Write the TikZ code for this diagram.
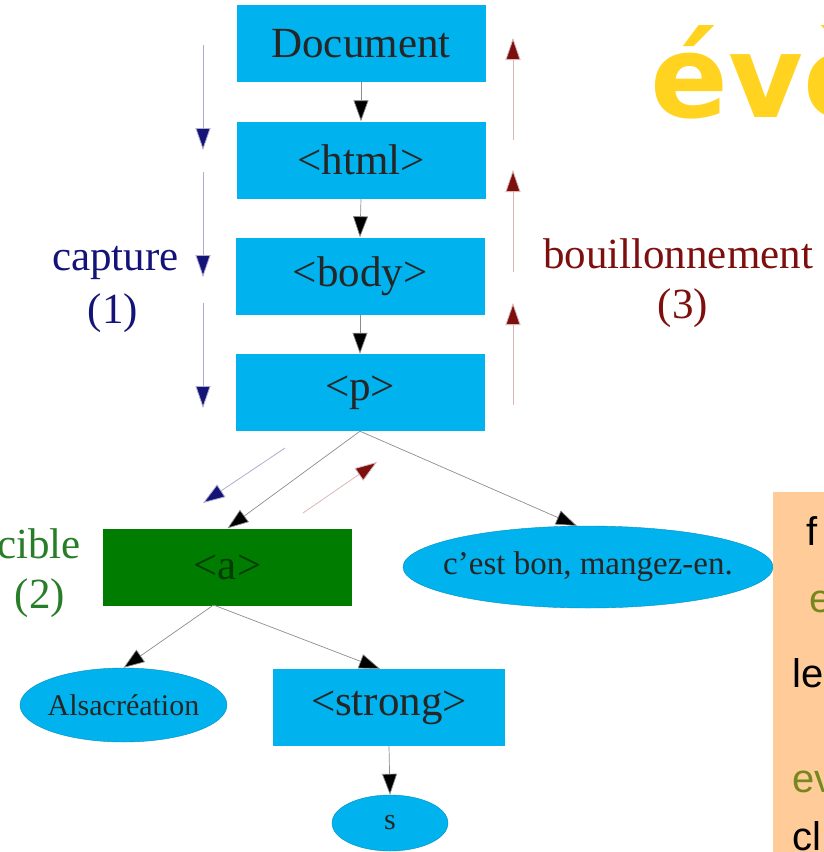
\documentclass[tikz,border=0pt]{standalone}
\usepackage{fontspec}
\setmainfont{Liberation Serif}
\newfontfamily\boxsans{Liberation Sans}
\newfontfamily\titlefont{DejaVu Sans}
\usetikzlibrary{arrows.meta,shapes.geometric}
\definecolor{skyb}{RGB}{0,178,238}
\definecolor{darkgr}{RGB}{0,125,0}
\definecolor{agreen}{RGB}{0,60,0}
\definecolor{labgreen}{RGB}{40,125,40}
\definecolor{capnavy}{RGB}{20,20,120}
\definecolor{bubred}{RGB}{125,15,15}
\definecolor{titley}{RGB}{255,211,32}
\definecolor{peach}{RGB}{255,204,153}
\definecolor{olivet}{RGB}{119,135,30}
\begin{document}
\begin{tikzpicture}[x=1pt,y=-1pt,
  bigfont/.style={font=\fontsize{43}{48}\selectfont},
  box/.style={rectangle, fill=skyb, inner sep=0pt, minimum width=249pt, minimum height=77pt, bigfont, text=black!85},
  oval/.style={ellipse, fill=skyb, draw=skyb!80!black, line width=0.4pt, inner sep=0pt},
  ovaltxt/.style={inner sep=0pt, text=black!85, font=\fontsize{#1}{36}\selectfont},
  edge/.style={draw=black!45, line width=0.7pt, -{Triangle[length=21pt,width=15pt,fill=black]}},
  capline/.style={draw=capnavy!35, line width=0.8pt, -{Triangle[length=22pt,width=15pt,fill=capnavy]}},
  bubline/.style={draw=bubred!30, line width=0.8pt, -{Triangle[length=22pt,width=15pt,fill=bubred]}},
  boxtxt/.style={anchor=base west, inner sep=0pt, font=\boxsans\fontsize{40}{46}\selectfont}
]
\useasboundingbox (0,0) rectangle (824,852);

% title
\node[anchor=base west, inner sep=0pt, text=titley, font=\titlefont\bfseries\fontsize{115}{120}\selectfont] (title) at (650,117) {évè};

% main chain
\node[box] (doc)  at (361,43.5)  {Document};
\node[box] (html) at (361,160)   {<html>};
\node[box] (body) at (360,276)   {<body>};
\node[box] (p)    at (360,392.5) {<p>};

\node[box, fill=darkgr, text=agreen] (a) at (227.5,567) {<a>};
\node[oval, minimum width=370pt, minimum height=82pt] (txt) at (588,567) {};
\node[ovaltxt=33] (txtl) at (txt.center) {c’est bon, mangez-en.};
\node[oval, minimum width=207pt, minimum height=74pt] (alsa) at (123.5,705) {};
\node[ovaltxt=30] (alsal) at (alsa.center) {Alsacréation};
\node[box, minimum width=232pt] (strong) at (389,707.5) {<strong>};
\node[oval, minimum width=116pt, minimum height=56pt] (s) at (390,823) {};
\node[ovaltxt=30] (sl) at (s.center) {s};

% edges
\draw[edge] (doc.south) -- (html.north);
\draw[edge] (html.south) -- (body.north);
\draw[edge] (body.south) -- (p.north);
\draw[edge] (p.south) -- (a.north);
\draw[edge] (p.south) -- (txt.105);
\coordinate (aout) at (213.5,605);
\draw[edge] (aout) -- (alsa.north);
\draw[edge] (aout) -- ([xshift=-9pt]strong.north);
\draw[edge] (strong.south) -- (s.north);

% capture arrows
\coordinate (c1a) at (203,45);  \coordinate (c1b) at (203,150);
\coordinate (c2a) at (203,172); \coordinate (c2b) at (203,277);
\coordinate (c3a) at (203,303); \coordinate (c3b) at (203,408);
\draw[capline] (c1a) -- (c1b);
\draw[capline] (c2a) -- (c2b);
\draw[capline] (c3a) -- (c3b);
\coordinate (c4a) at (285,448); \coordinate (c4b) at (203,503);
\draw[capline] (c4a) -- (c4b);

% bubbling arrows
\coordinate (b1a) at (513,140); \coordinate (b1b) at (513,38);
\coordinate (b2a) at (513,272); \coordinate (b2b) at (513,170);
\coordinate (b3a) at (513,405); \coordinate (b3b) at (513,303);
\draw[bubline] (b1a) -- (b1b);
\draw[bubline] (b2a) -- (b2b);
\draw[bubline] (b3a) -- (b3b);
\coordinate (b4a) at (303,513); \coordinate (b4b) at (377,462);
\draw[bubline] (b4a) -- (b4b);

% labels
\node[anchor=base, inner sep=0pt, text=capnavy, bigfont] (capl) at (115.5,270) {capture};
\node[anchor=base, inner sep=0pt, text=capnavy, bigfont] (capn) at (113,323) {(1)};
\node[anchor=base, inner sep=0pt, text=bubred, bigfont] (bubl) at (678,268) {bouillonnement};
\node[anchor=base, inner sep=0pt, text=bubred, bigfont] (bubn) at (683,318) {(3)};
\node[anchor=base, inner sep=0pt, text=labgreen, bigfont] (cibl) at (39,558) {cible};
\node[anchor=base, inner sep=0pt, text=labgreen, bigfont] (cibn) at (40,608) {(2)};

% peach panel
\fill[peach] (773,492) rectangle (824,852);
\node[boxtxt] (t1) at (806,545) {f};
\node[boxtxt, text=olivet] (t2) at (809,612) {e};
\node[boxtxt] (t3) at (792,687) {le};
\node[boxtxt, text=olivet] (t4) at (792,792) {ev};
\node[boxtxt] (t5) at (792,850) {cl};
\end{tikzpicture}
\end{document}
